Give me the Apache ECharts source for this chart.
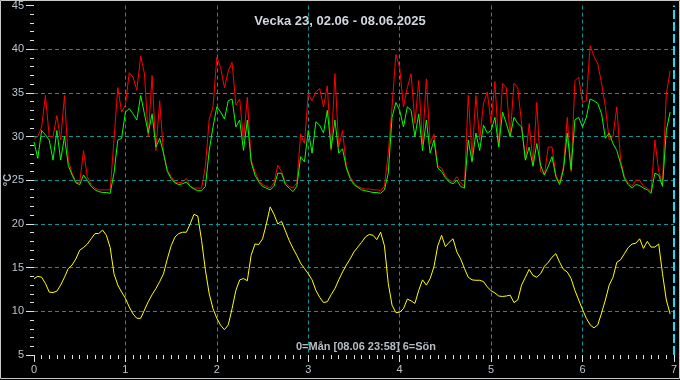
<!DOCTYPE html>
<html>
<head>
<meta charset="utf-8">
<script src="https://cdn.jsdelivr.net/npm/echarts@6/dist/echarts.min.js"></script>
<style>
  html, body { margin: 0; padding: 0; background: #000; }
  #chart { width: 680px; height: 380px; }
</style>
</head>
<body>
<div id="chart"></div>
<script>
// veckodagar, 0=Mån ... 6=Sön
const dayTicks = [0, 1, 2, 3, 4, 5, 6, 7]
const hoursPerDay = 24

// timvärden (°C), en per timme från måndag 00:00
const redTemp = [
  29.8, 30.0, 31.1, 34.7, 30.0, 30.0, 32.4, 29.6, 34.7, 27.3, 25.8, 24.8, 24.7, 28.4, 25.4, 24.5, 24.1, 23.9, 23.9, 23.9, 23.9, 29.6, 35.6, 32.8,
  33.6, 37.3, 36.8, 35.3, 39.2, 37.2, 30.0, 37.0, 28.4, 34.1, 28.1, 26.2, 25.4, 24.8, 24.7, 24.8, 25.2, 24.3, 24.1, 24.1, 24.1, 26.6, 32.0, 33.4,
  39.1, 37.9, 35.6, 37.5, 38.5, 33.6, 34.3, 29.6, 34.5, 27.3, 26.0, 25.0, 24.5, 24.3, 24.1, 24.7, 26.7, 26.0, 24.7, 24.3, 24.1, 24.7, 30.3, 29.2,
  34.9, 34.1, 35.1, 35.5, 33.4, 35.8, 28.4, 37.2, 28.8, 30.7, 26.6, 25.4, 24.7, 24.3, 24.1, 24.0, 24.0, 23.9, 23.9, 23.8, 24.3, 28.1, 33.4, 39.4,
  37.9, 33.4, 35.6, 37.2, 31.5, 36.4, 29.2, 36.6, 29.2, 30.3, 26.6, 26.4, 25.5, 25.0, 24.8, 25.4, 24.7, 24.3, 34.7, 27.7, 34.7, 29.6, 33.8, 35.1,
  31.5, 36.3, 28.8, 36.1, 35.6, 30.0, 36.1, 35.6, 31.5, 27.3, 31.5, 26.9, 33.9, 26.0, 25.6, 28.8, 28.8, 25.6, 24.7, 26.6, 32.2, 26.0, 36.4, 36.8,
  33.9, 34.1, 40.4, 39.2, 38.3, 36.1, 33.4, 29.6, 30.0, 33.4, 27.3, 25.4, 24.7, 24.3, 25.0, 25.0, 24.3, 24.1, 23.7, 29.6, 26.0, 24.7, 34.9, 37.5
]
const greenTemp = [
  29.4, 27.5, 30.7, 30.2, 29.6, 27.3, 30.7, 27.3, 30.0, 26.7, 25.6, 24.7, 24.5, 25.6, 25.0, 24.3, 23.9, 23.7, 23.6, 23.6, 23.5, 25.8, 29.6, 29.8,
  32.8, 33.2, 32.6, 31.9, 34.7, 32.6, 30.4, 32.6, 28.8, 29.8, 28.1, 26.0, 25.2, 24.7, 24.5, 24.6, 24.8, 24.3, 24.0, 23.8, 23.8, 24.3, 28.4, 31.1,
  33.4, 32.8, 32.0, 34.1, 34.3, 31.1, 31.9, 28.4, 31.9, 27.1, 25.6, 24.8, 24.3, 24.1, 23.9, 24.3, 25.8, 25.8, 24.5, 24.1, 23.7, 24.3, 27.7, 27.1,
  30.7, 28.1, 31.7, 31.3, 30.4, 33.0, 28.6, 31.9, 28.1, 28.6, 26.4, 25.2, 24.5, 24.2, 23.9, 23.8, 23.7, 23.6, 23.6, 23.5, 23.9, 25.8, 32.2, 33.9,
  33.0, 31.1, 33.4, 33.0, 30.0, 32.6, 28.4, 31.9, 28.1, 29.6, 26.4, 26.0, 25.3, 24.8, 24.6, 25.0, 24.3, 24.1, 29.6, 27.1, 30.4, 28.4, 31.3, 30.4,
  30.7, 32.2, 28.8, 32.8, 31.5, 30.0, 32.2, 31.5, 31.1, 27.3, 28.8, 26.6, 29.2, 26.7, 25.6, 26.6, 27.7, 25.4, 24.5, 26.2, 30.4, 26.2, 31.9, 32.2,
  31.1, 32.2, 34.3, 34.1, 33.8, 32.6, 29.8, 30.4, 29.2, 28.4, 26.9, 25.2, 24.5, 24.1, 24.5, 24.4, 24.1, 23.9, 23.5, 25.8, 25.6, 24.3, 30.7, 32.8
]
const yellowTemp = [
  13.75, 14.0, 13.9, 13.2, 12.2, 12.15, 12.3, 13.0, 13.9, 14.9, 15.3, 16.0, 17.0, 17.3, 17.7, 18.3, 18.9, 18.9, 19.3, 18.7, 17.3, 14.3, 13.0, 12.2,
  11.5, 10.5, 9.7, 9.2, 9.2, 10.15, 11.1, 11.9, 12.6, 13.4, 14.3, 16.0, 17.5, 18.5, 18.9, 19.05, 19.05, 20.0, 21.1, 20.9, 18.1, 14.7, 12.0, 10.3,
  9.2, 8.4, 7.9, 8.45, 10.3, 12.4, 13.6, 13.75, 13.5, 16.4, 17.7, 17.65, 18.3, 20.0, 21.95, 21.1, 20.0, 20.3, 19.2, 18.1, 17.2, 16.4, 15.5, 14.9,
  14.3, 13.6, 12.4, 11.6, 11.0, 11.1, 11.9, 12.6, 13.6, 14.5, 15.3, 16.0, 16.8, 17.35, 17.9, 18.5, 18.8, 18.7, 18.2, 19.05, 17.5, 13.2, 10.7, 9.85,
  9.9, 10.3, 11.4, 11.2, 10.9, 12.4, 13.6, 13.0, 13.75, 15.1, 17.5, 18.7, 17.4, 17.9, 18.3, 16.8, 16.0, 14.9, 13.9, 13.6, 13.55, 13.55, 13.4, 12.8,
  12.35, 12.1, 11.75, 11.7, 11.75, 11.85, 11.0, 11.3, 13.0, 13.9, 14.8, 14.1, 13.9, 14.3, 15.15, 15.6, 16.2, 16.6, 15.6, 14.8, 14.5, 13.75, 12.4, 11.3,
  10.2, 9.2, 8.45, 8.1, 8.45, 9.8, 11.3, 13.0, 13.9, 15.6, 15.9, 16.6, 17.3, 17.7, 17.8, 18.3, 17.2, 18.0, 17.35, 17.35, 17.7, 14.3, 11.3, 9.7
]
const yTicks = { min: 5, max: 45, step: 5 }
const nowDay = 7

const toPoints = arr => arr.map((v, i) => [i / hoursPerDay, v])

const labelColor = '#b8c4d0'
const gridColor = '#0e9494'

const chart = echarts.init(document.getElementById('chart'), null, { renderer: 'canvas' })
chart.setOption({
  animation: false,
  backgroundColor: '#000',
  title: {
    text: 'Vecka 23, 02.06 - 08.06.2025',
    left: 'center',
    top: 10,
    textStyle: { color: '#cfd6de', fontFamily: 'Liberation Sans', fontSize: 13, fontWeight: 'bold' }
  },
  grid: { left: 34, right: 5, top: 4, bottom: 25, containLabel: false },
  xAxis: {
    type: 'value',
    min: dayTicks[0],
    max: dayTicks[dayTicks.length - 1],
    interval: 1,
    axisLine: { show: false },
    axisTick: { show: true, length: 7, lineStyle: { color: '#e0e0e0' } },
    minorTick: { show: true, splitNumber: 12, length: 4, lineStyle: { color: '#e0e0e0' } },
    axisLabel: { color: labelColor, fontFamily: 'Liberation Sans', fontSize: 11, margin: 9 },
    splitLine: { show: true, showMinLine: false, showMaxLine: false, lineStyle: { color: gridColor, type: [4, 3], width: 1 } }
  },
  yAxis: {
    type: 'value',
    min: yTicks.min,
    max: yTicks.max,
    interval: yTicks.step,
    axisLine: { show: false },
    axisTick: { show: true, length: 8, lineStyle: { color: '#e0e0e0' } },
    minorTick: { show: true, splitNumber: 5, length: 4, lineStyle: { color: '#e0e0e0' } },
    axisLabel: { color: labelColor, fontFamily: 'Liberation Sans', fontSize: 11, margin: 10 },
    splitLine: { show: true, showMinLine: false, showMaxLine: false, lineStyle: { color: gridColor, type: [4, 3], width: 1 } }
  },
  graphic: [
    {
      type: 'rect',
      shape: { x: 0.5, y: 0.5, width: 679, height: 378 },
      style: { fill: 'none', stroke: '#c8c8c8', lineWidth: 1 },
      z: 100
    },
    {
      type: 'text',
      x: 8,
      y: 180,
      rotation: Math.PI / 2,
      style: { text: '°C', fill: labelColor, font: 'bold 11px "Liberation Sans"', textAlign: 'center', textVerticalAlign: 'middle' }
    },
    {
      type: 'text',
      x: 366,
      y: 347,
      style: { text: '0=Mån [08.06 23:58] 6=Sön', fill: '#b4bcc4', font: 'bold 11px "Liberation Sans"', textAlign: 'center', textVerticalAlign: 'middle' }
    }
  ],
  series: [
    {
      name: 'röd',
      type: 'line',
      data: toPoints(redTemp),
      showSymbol: false,
      lineStyle: { color: '#ff0000', width: 1 },
      markLine: {
        silent: true,
        symbol: 'none',
        label: { show: false },
        lineStyle: { color: '#22d8f0', type: [9, 3], width: 2 },
        data: [{ xAxis: nowDay }]
      }
    },
    {
      name: 'grön',
      type: 'line',
      data: toPoints(greenTemp),
      showSymbol: false,
      lineStyle: { color: '#00ff00', width: 1 }
    },
    {
      name: 'gul',
      type: 'line',
      data: toPoints(yellowTemp),
      showSymbol: false,
      lineStyle: { color: '#ffff00', width: 1 }
    }
  ]
})
</script>
</body>
</html>
